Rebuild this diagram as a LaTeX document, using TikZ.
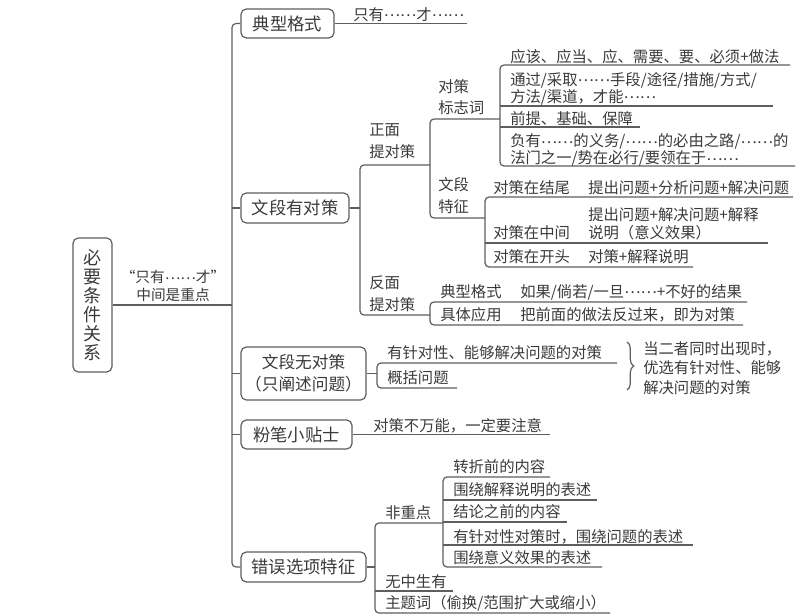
\documentclass[tikz,border=0pt]{standalone}
\usepackage{fontspec}
\setmainfont{Noto Sans CJK SC}
\usetikzlibrary{decorations.pathreplacing}
\definecolor{lncol}{HTML}{5E5E5E}
\definecolor{txcol}{HTML}{3A3A3A}
\newcommand\mydots{\raisebox{0.22em}{……}}
\tikzset{
  mline/.style={draw=lncol,line width=0.9pt,rounded corners=3pt},
  mbox/.style={draw=lncol,line width=0.9pt,rounded corners=4pt,text=txcol,
    font=\fontsize{13}{16.5}\selectfont,inner sep=0pt,align=center},
  leaf/.style={anchor=west,inner sep=0pt,text=txcol,
    font=\fontsize{11.5}{13}\selectfont,align=left},
}
\begin{document}
\begin{tikzpicture}[x=0.75pt,y=-0.75pt]
\useasboundingbox (0,0) rectangle (812,616);
% ---------- root and level 1 ----------
\node[mbox,minimum width=39*0.75pt,minimum height=134*0.75pt,
  font=\fontsize{13.5}{14.25}\selectfont] (root) at (92.5,305) {必\\要\\条\\件\\关\\系};
\node[mbox,minimum width=93*0.75pt,minimum height=29*0.75pt] (b1) at (287.5,23.5) {典型格式};
\node[mbox,minimum width=108*0.75pt,minimum height=30*0.75pt] (b2) at (295,208) {文段有对策};
\node[mbox,minimum width=125*0.75pt,minimum height=53*0.75pt,
  font=\fontsize{12.5}{16.5}\selectfont] (b3) at (303.5,373.5) {文段无对策\\（只阐述问题）};
\node[mbox,minimum width=111*0.75pt,minimum height=29*0.75pt] (b4) at (296.5,434.5) {粉笔小贴士};
\node[mbox,minimum width=125*0.75pt,minimum height=30*0.75pt] (b5) at (303.5,567) {错误选项特征};
\node[leaf,anchor=center,align=center,font=\fontsize{11}{13.5}\selectfont] (note) at (173,286)
  {“只有\mydots 才”\\中间是重点};
% trunk
\coordinate (tk) at (232,0);
\draw[mline] (root.east) -- (tk |- root.east);
\draw[mline] (b1.west) -- (tk |- b1.west) -- (tk |- b5.west) -- (b5.west);
\draw[mline] (tk |- b2.west) -- (b2.west);
\draw[mline] (tk |- b3.west) -- (b3.west);
\draw[mline] (tk |- b4.west) -- (b4.west);
% ---------- 典型格式 ----------
\node[leaf] (t1) at (353,14.5) {只有\mydots 才\mydots};
\coordinate (t1e) at (467,23.5);
\draw[mline] (b1.east) -- (t1e);
% ---------- 文段有对策 ----------
\coordinate (k2) at (360,0);
\draw[mline] (b2.east) -- (k2 |- b2.east);
\coordinate (zm) at (430,165);
\coordinate (fm) at (430,315);
\draw[mline] (zm) -- (k2 |- zm) -- (k2 |- fm) -- (fm);
\node[leaf,font=\fontsize{11.5}{16.5}\selectfont] (zmt) at (369,141) {正面\\提对策};
\node[leaf,font=\fontsize{11.5}{16.5}\selectfont] (fmt) at (369,294) {反面\\提对策};
% 正面
\coordinate (dc) at (500,119);
\coordinate (wd) at (485,218);
\draw[mline] (dc) -- (zm |- dc) -- (zm |- wd) -- (wd);
\node[leaf,font=\fontsize{11.5}{15.75}\selectfont] (dct) at (438,97.5) {对策\\标志词};
\node[leaf,font=\fontsize{11.5}{16.5}\selectfont] (wdt) at (438,196) {文段\\特征};
% 对策标志词
\draw[mline] (790,65) -- (dc |- 0,65) -- (dc |- 0,166) -- (795,166);
\draw[mline] (dc |- 0,106) -- (773,106);
\draw[mline] (dc |- 0,127) -- (640,127);
\node[leaf] (l1) at (510,57) {应该、应当、应、需要、要、必须+做法};
\node[leaf,font=\fontsize{11.5}{12.75}\selectfont] (l2) at (510,88.5) {通过/采取\mydots 手段/途径/措施/方式/\\方法/渠道，才能\mydots};
\node[leaf] (l3) at (510,119) {前提、基础、保障};
\node[leaf,font=\fontsize{11.5}{11.2}\selectfont] (l4) at (510,150) {负有\mydots 的义务/\mydots 的必由之路/\mydots 的\\法门之一/势在必行/要领在于\mydots};
% 文段特征
\draw[mline] (793,197) -- (wd |- 0,197) -- (wd |- 0,267) -- (693,267);
\draw[mline] (wd |- 0,243) -- (768,243);
\node[leaf] (w1a) at (493,188) {对策在结尾};
\node[leaf] (w1b) at (588,188) {提出问题+分析问题+解决问题};
\node[leaf] (w2a) at (493,233) {对策在中间};
\node[leaf,font=\fontsize{11.5}{13.5}\selectfont] (w2b) at (588,224) {提出问题+解决问题+解释\\说明（意义效果）};
\node[leaf] (w3a) at (493,257) {对策在开头};
\node[leaf] (w3b) at (588,257) {对策+解释说明};
% 反面
\draw[mline] (747,302) -- (fm |- 0,302) -- (fm |- 0,325) -- (743,325);
\node[leaf] (f1a) at (440,292) {典型格式};
\node[leaf] (f1b) at (520,292) {如果/倘若/一旦\mydots +不好的结果};
\node[leaf] (f2a) at (440,315) {具体应用};
\node[leaf] (f2b) at (520,315) {把前面的做法反过来，即为对策};
% ---------- 文段无对策 ----------
\coordinate (k3) at (377,0);
\draw[mline] (b3.east) -- (k3 |- b3.east);
\draw[mline] (617,363) -- (k3 |- 0,363) -- (k3 |- 0,388) -- (457,388);
\node[leaf] (n1) at (387,353) {有针对性、能够解决问题的对策};
\node[leaf] (n2) at (387,378) {概括问题};
\coordinate (brt) at (627,342);
\coordinate (brb) at (627,390);
\draw[draw=lncol,line width=0.9pt,decorate,decoration={brace,amplitude=5pt}] (brt) -- (brb);
\node[leaf,font=\fontsize{11.5}{14.6}\selectfont] (nb) at (643,368) {当二者同时出现时，\\优选有针对性、能够\\解决问题的对策};
% ---------- 粉笔小贴士 ----------
\coordinate (t4e) at (550,434.5);
\draw[mline] (b4.east) -- (t4e);
\node[leaf] (t4) at (373,426) {对策不万能，一定要注意};
% ---------- 错误选项特征 ----------
\coordinate (k5) at (375,0);
\draw[mline] (b5.east) -- (k5 |- b5.east);
\coordinate (fz) at (443,523);
\draw[mline] (fz) -- (k5 |- fz) -- (k5 |- 0,613) -- (610,613);
\draw[mline] (k5 |- 0,591) -- (453,591);
\node[leaf] (e1) at (385,513) {非重点};
\node[leaf] (e2) at (385,582) {无中生有};
\node[leaf] (e3) at (385,603) {主题词（偷换/范围扩大或缩小）};
% 非重点
\draw[mline] (550,477) -- (fz |- 0,477) -- (fz |- 0,567) -- (602,567);
\draw[mline] (fz |- 0,500) -- (597,500);
\draw[mline] (fz |- 0,522) -- (567,522);
\draw[mline] (fz |- 0,545) -- (693,545);
\node[leaf] (z1) at (453,467) {转折前的内容};
\node[leaf] (z2) at (453,490) {围绕解释说明的表述};
\node[leaf] (z3) at (453,512) {结论之前的内容};
\node[leaf] (z4) at (453,537) {有针对性对策时，围绕问题的表述};
\node[leaf] (z5) at (453,558) {围绕意义效果的表述};
\end{tikzpicture}
\end{document}
